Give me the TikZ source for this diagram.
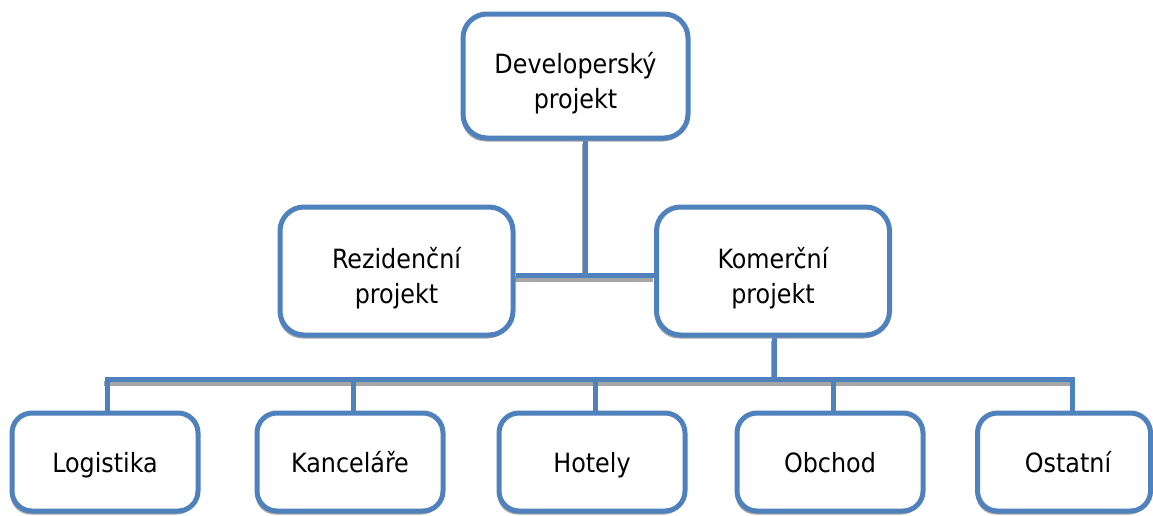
\documentclass[tikz,border=0pt]{standalone}
\usepackage{fontspec}
\setmainfont{DejaVu Sans Condensed}
\usetikzlibrary{shadows}
\definecolor{boxblue}{HTML}{4F81BD}
\definecolor{shadowgray}{HTML}{A6A6A6}
\tikzset{
  x=1pt, y=-1pt,
  orgbox/.style={draw=boxblue, line width=5pt, fill=white,
    rounded corners=#1, inner sep=0pt,
    drop shadow={shadow xshift=-1.5pt, shadow yshift=-3.5pt,
      fill=shadowgray, opacity=1}},
  upper/.style={orgbox=24pt, minimum width=233pt, minimum height=128pt},
  lower/.style={orgbox=20pt, minimum width=186pt, minimum height=98pt},
  boxtext/.style={align=center, inner sep=0pt,
    font=\fontsize{26.5}{35}\selectfont},
  linetext/.style={boxtext, anchor=base},
  link/.style={draw=boxblue, line width=5pt},
  linkshade/.style={draw=shadowgray, line width=5pt},
}
\begin{document}
\begin{tikzpicture}
\useasboundingbox (0,0) rectangle (1153,515);
\clip (0,0) rectangle (1153,515);

% connector shadows
\begin{scope}[shift={(-1,4)}]
  \draw[linkshade] (585,140) -- (585,275);
  \draw[linkshade] (515,275) -- (654,275);
  \draw[linkshade] (774,337) -- (774,379);
  \draw[linkshade] (105,379) -- (1074,379);
\end{scope}

% tree boxes
\node[upper, minimum width=225pt, minimum height=124pt] (dev) at (575.5,76) {};
\node[upper] (rez) at (396.5,271) {};
\node[upper] (kom) at (773,271) {};

\node[lower] (log) at (105,462) {};
\node[lower] (kan) at (350,462) {};
\node[lower] (hot) at (592,462) {};
\node[lower] (obc) at (830,462) {};
\node[lower, minimum width=173pt] (ost) at (1064,462) {};

% box labels
\node[boxtext] (dev-t) at ([yshift=-7pt]dev.center) {Developerský\\projekt};
\node[boxtext] (rez-t) at ([yshift=-7pt]rez.center) {Rezidenční\\projekt};
\node[boxtext] (kom-t) at ([yshift=-7pt]kom.center) {Komerční\\projekt};
\node[linetext] (log-t) at ([yshift=-10pt]log.center) {Logistika};
\node[linetext] (kan-t) at ([yshift=-10pt]kan.center) {Kanceláře};
\node[linetext] (hot-t) at ([yshift=-10pt]hot.center) {Hotely};
\node[linetext] (obc-t) at ([yshift=-10pt]obc.center) {Obchod};
\node[linetext] (ost-t) at ([xshift=4pt,yshift=-10pt]ost.center) {Ostatní};

% connectors
\coordinate (hub) at (585,275);
\coordinate (bus) at (774,379);
\coordinate (d1) at (107,379);
\coordinate (d2) at (353,379);
\coordinate (d3) at (595,379);
\coordinate (d4) at (833,379);
\coordinate (d5) at (1072,379);
\draw[link] (dev.south -| hub) -- (hub);
\draw[link] (rez.east |- hub) -- (kom.west |- hub);
\draw[link] (kom.south -| bus) -- (bus);
\draw[link] ([xshift=-2.5pt]d1) -- ([xshift=2.5pt]d5);
\draw[link] (d1) -- (log.north -| d1);
\draw[link] (d2) -- (kan.north -| d2);
\draw[link] (d3) -- (hot.north -| d3);
\draw[link] (d4) -- (obc.north -| d4);
\draw[link] (d5) -- (ost.north -| d5);
\end{tikzpicture}
\end{document}
